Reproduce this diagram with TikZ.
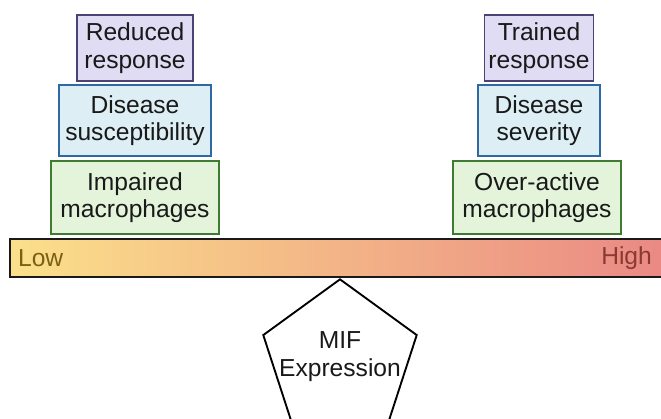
\documentclass[tikz,border=0pt]{standalone}
\usepackage{fontspec}
\setmainfont{Liberation Sans}
\usepackage{tikz}
\usetikzlibrary{shapes,positioning}

\definecolor{purfill}{RGB}{224,220,244}
\definecolor{purline}{RGB}{75,67,115}
\definecolor{bluefill}{RGB}{221,239,245}
\definecolor{blueline}{RGB}{46,105,163}
\definecolor{grnfill}{RGB}{227,244,219}
\definecolor{grnline}{RGB}{63,123,48}
\definecolor{barlow}{RGB}{251,224,138}
\definecolor{barmid}{RGB}{245,190,140}
\definecolor{barhigh}{RGB}{234,136,132}
\definecolor{lowtext}{RGB}{123,96,20}
\definecolor{hightext}{RGB}{138,58,48}

\tikzset{
  levelbox/.style={draw,line width=1.6pt,align=center,inner sep=0pt,text=black!90},
  cellbox/.style={levelbox,fill=grnfill,draw=grnline,minimum height=2.19cm},
  sickbox/.style={levelbox,fill=bluefill,draw=blueline,minimum height=2.13cm},
  respbox/.style={levelbox,fill=purfill,draw=purline,minimum height=1.98cm}
}

\begin{document}
\begin{tikzpicture}[font=\fontsize{21}{23.5}\selectfont]
\clip (0,0) rectangle (19.83,12.57);

%the bar
\shade[left color=barlow,middle color=barmid,right color=barhigh] (0.3,4.26) rectangle (20.1,5.4);
\draw[line width=1.7pt,black!90] (0.3,4.26) rectangle (20.1,5.4);
\node[anchor=west,text=lowtext] (low) at (0.42,4.83) {Low};
\node[anchor=east,text=hightext] (high) at (19.68,4.83) {High};

%left stack
\node[cellbox,minimum width=5.04cm,anchor=south] (impaired) at (4.05,5.52) {Impaired\\macrophages};
\node[sickbox,minimum width=4.56cm,above=0.09cm of impaired] (suscept) {Disease\\susceptibility};
\node[respbox,minimum width=3.48cm,above=0.06cm of suscept] (reduced) {Reduced\\response};

%right stack
\node[cellbox,minimum width=5.04cm,anchor=south] (overactive) at (16.11,5.52) {Over-active\\macrophages};
\node[sickbox,minimum width=3.66cm,above=0.09cm of overactive,xshift=0.06cm] (severity) {Disease\\severity};
\node[respbox,minimum width=3.27cm,above=0.06cm of severity] (trained) {Trained\\response};

%pivot, text set on its own so it does not widen the shape
\node[regular polygon,regular polygon sides=5,draw,line width=1.6pt,inner sep=0pt,
  minimum size=4.84cm] (mif) at (10.2,1.77) {};
\node[align=center,text=black!90] (miftext) at ([yshift=0.1cm]mif.center) {MIF\\Expression};
\end{tikzpicture}
\end{document}
